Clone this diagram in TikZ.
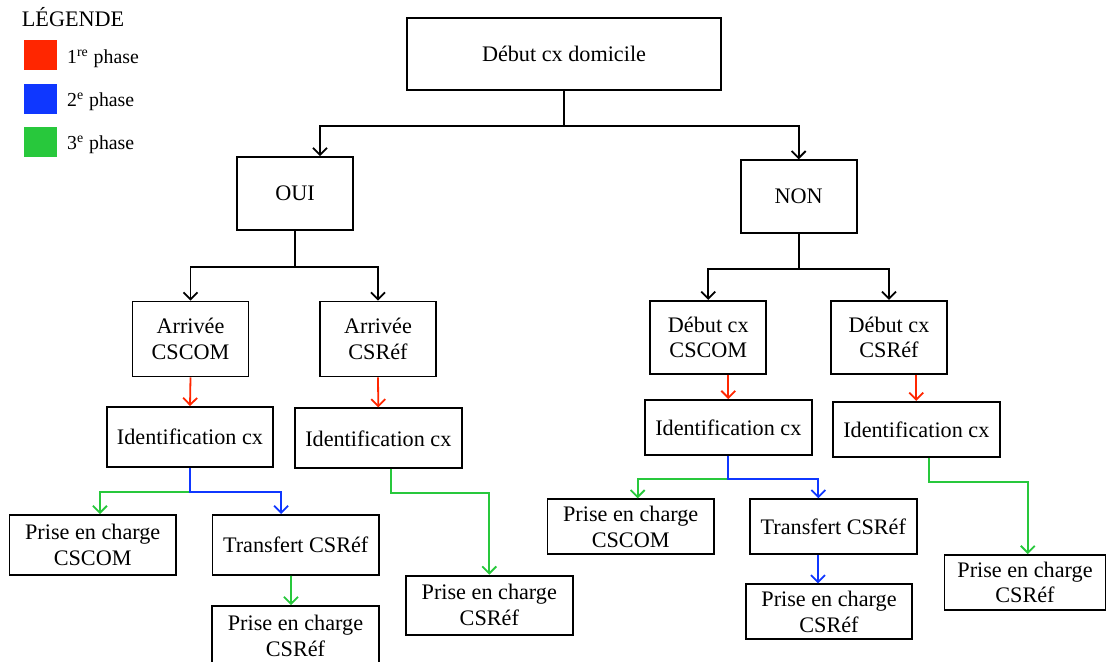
\documentclass[tikz,border=0pt]{standalone}
\usepackage{fontspec}
\setmainfont{Liberation Serif}
\usepackage{tikz}
\usetikzlibrary{positioning, arrows.meta}

\definecolor{phaseA}{RGB}{255,38,0}
\definecolor{phaseB}{RGB}{15,55,255}
\definecolor{phaseC}{RGB}{40,200,60}

\newcommand{\mainfs}{\fontsize{11.1}{12.9}\selectfont}
\newcommand{\legfs}{\fontsize{9.9}{11.5}\selectfont}

\tikzset{
    box/.style={draw, line width=0.9pt, align=center, inner sep=0pt, font=\mainfs},
    bigbox/.style={box, minimum width=157pt, minimum height=36pt},
    sbox/.style={box, minimum width=58pt, minimum height=36.5pt},
    wbox/.style={box, minimum width=83.3pt, minimum height=30pt},
    lowbox/.style={wbox, minimum height=27.5pt},
    arr/.style={-{Straight Barb[length=3.5pt,width=7pt]}, line width=0.9pt},
    carr/.style={-{Straight Barb[length=3.5pt,width=7pt]}, line width=0.9pt, draw=#1}
}

\begin{document}
\begin{tikzpicture}[x=0.5pt, y=-0.5pt]
    \useasboundingbox (0,0) rectangle (1107,662);

    % Legend
    \node[anchor=base west, inner sep=0pt, font=\mainfs] (legtitle) at (21.5,27) {LÉGENDE};
    \foreach \c/\y/\t in {phaseA/55/{1\textsuperscript{re} phase}, phaseB/98.7/{2\textsuperscript{e} phase}, phaseC/141.7/{3\textsuperscript{e} phase}} {
        \node[fill=\c, minimum width=16.5pt, minimum height=15pt, inner sep=0pt] (leg\c) at (40.7,\y) {};
        \node[anchor=base west, inner sep=0pt, font=\legfs] (lab\c) at (66.7,\y+8.3) {\t};
    }

    % Top levels
    \node[bigbox] (debut) at (564,54) {Début cx domicile};
    \node[sbox] (oui) at (295,193.5) {OUI};
    \node[sbox] (non) at (798.7,196.7) {NON};

    % OUI branch
    \node[sbox, minimum height=37.5pt] (arrcscom) at (190.5,339) {Arrivée\\CSCOM};
    \node[sbox, minimum height=37.5pt] (arrcsref) at (378,339) {Arrivée\\CSRéf};
    \node[wbox] (idl) at (190,437) {Identification cx};
    \node[wbox] (idml) at (378.3,438.3) {Identification cx};
    \node[wbox] (pecl) at (92.7,545) {Prise en charge\\CSCOM};
    \node[wbox] (trl) at (295.7,545) {Transfert CSRéf};
    \node[wbox] (pecbl) at (295.5,636) {Prise en charge\\CSRéf};
    \node[wbox, minimum height=29.7pt] (pecml) at (489.3,605.3) {Prise en charge\\CSRéf};

    % NON branch
    \node[sbox] (debcscom) at (708.3,337.3) {Début cx\\CSCOM};
    \node[sbox] (debcsref) at (889,337.3) {Début cx\\CSRéf};
    \node[lowbox] (idmr) at (728.3,427.5) {Identification cx};
    \node[lowbox] (idr) at (916.3,429.3) {Identification cx};
    \node[lowbox] (pecmr) at (630.7,526.7) {Prise en charge\\CSCOM};
    \node[lowbox] (trmr) at (833.3,526.7) {Transfert CSRéf};
    \node[lowbox] (pecbr) at (829,611.8) {Prise en charge\\CSRéf};
    \node[lowbox, minimum width=80.5pt] (pecr) at (1025,582.5) {Prise en charge\\CSRéf};

    % Black links
    \draw[arr] (debut.south) -- ++(0,35) -| ([xshift=12.5pt]oui.north);
    \draw[arr] (debut.south) -- ++(0,35) -| (non.north);
    \draw[arr] (oui.south) -- ++(0,36) -| (arrcscom.north);
    \draw[arr] (oui.south) -- ++(0,36) -| (arrcsref.north);
    \draw[arr] (non.south) -- ++(0,34.6) -| (debcscom.north);
    \draw[arr] (non.south) -- ++(0,34.6) -| (debcsref.north);

    % 1re phase
    \draw[carr=phaseA] (arrcscom.south) -- (idl.north);
    \draw[carr=phaseA] (arrcsref.south) -- (idml.north);
    \draw[carr=phaseA] (idmr.north |- debcscom.south) -- (idmr.north);
    \draw[carr=phaseA] (idr.north |- debcsref.south) -- (idr.north);

    % 2e and 3e phase
    \draw[carr=phaseC] (idl.south) ++(0,24) -| ([xshift=3.6pt]pecl.north);
    \draw[carr=phaseB] (idl.south) -- ++(0,24) -| ([xshift=-7.3pt]trl.north);
    \draw[carr=phaseC] ([xshift=-2.3pt]trl.south) -- ([xshift=-2.3pt]pecbl.north);
    \draw[carr=phaseC] ([xshift=6.2pt]idml.south) -- ++(0,24) -| (pecml.north);
    \draw[carr=phaseC] (idmr.south) ++(0,22.7) -| ([xshift=3.5pt]pecmr.north);
    \draw[carr=phaseB] (idmr.south) -- ++(0,22.7) -| ([xshift=-7.5pt]trmr.north);
    \draw[carr=phaseB] ([xshift=-5.5pt]pecbr.north |- trmr.south) -- ([xshift=-5.5pt]pecbr.north);
    \draw[carr=phaseC] ([xshift=6.5pt]idr.south) -- ++(0,24) -| ([xshift=1.4pt]pecr.north);
\end{tikzpicture}
\end{document}
